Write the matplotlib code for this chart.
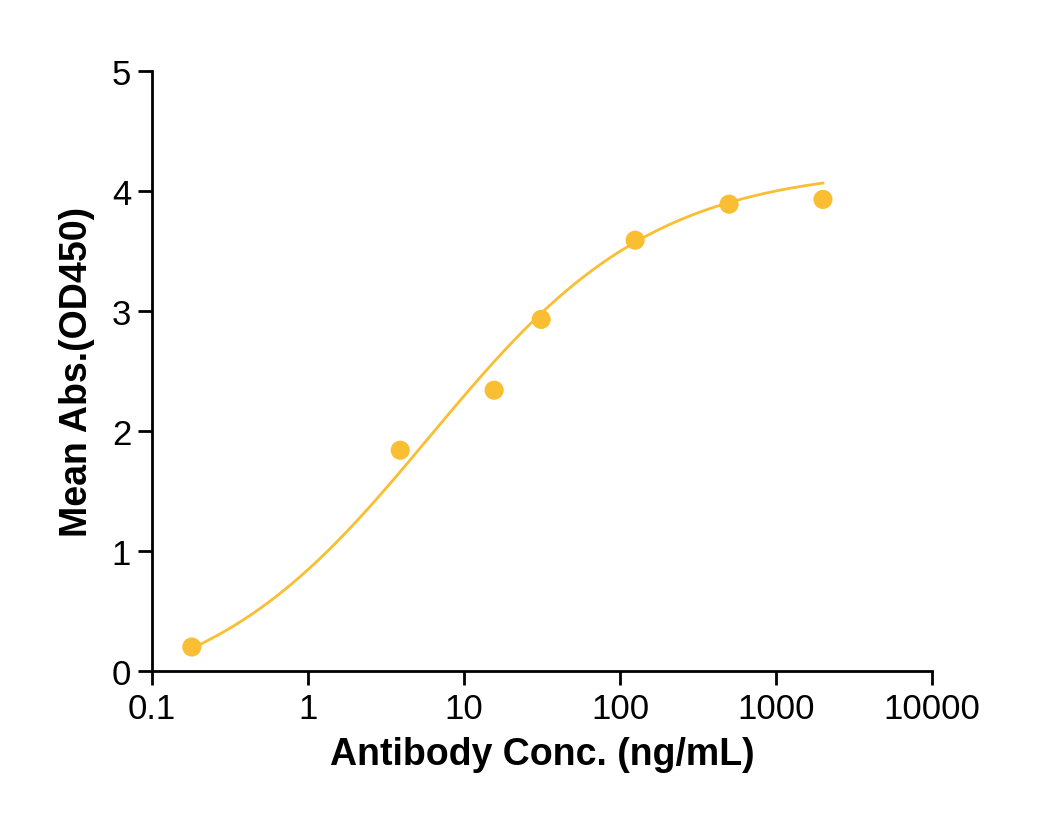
import numpy as np
import matplotlib
matplotlib.use('Agg')
import matplotlib.pyplot as plt

plt.rcParams['font.family'] = ['Liberation Sans', 'DejaVu Sans']

# measured points
conc = [0.18, 3.9, 15.6, 31.25, 125, 500, 2000]
absorb = [0.20, 1.84, 2.34, 2.93, 3.59, 3.89, 3.93]

# 4PL fit parameters (estimated from the drawn curve)
bottom, top, ec50, hill = -0.3, 4.2, 6.0, 0.6

color = '#F9BE32'

fig = plt.figure(figsize=(10.55, 8.37), dpi=100)
ax = fig.add_axes([152/1055, 165/837, 780/1055, 600/837])

xs = np.logspace(np.log10(conc[0]), np.log10(conc[-1]), 300)
ys = bottom + (top - bottom) / (1 + (ec50 / xs) ** hill)
ax.plot(xs, ys, color=color, lw=2)
ax.scatter(conc, absorb, s=190, color=color, zorder=3, edgecolors='none')

ax.set_xscale('log')
ax.set_xlim(0.1, 10000)
ax.set_ylim(0, 5)
ax.set_xticks([0.1, 1, 10, 100, 1000, 10000])
ax.set_xticklabels(['0.1', '1', '10', '100', '1000', '10000'])
ax.xaxis.set_minor_locator(matplotlib.ticker.NullLocator())
ax.set_yticks([0, 1, 2, 3, 4, 5])
for s in ['top', 'right']:
    ax.spines[s].set_visible(False)
for s in ['left', 'bottom']:
    ax.spines[s].set_linewidth(2)
ax.tick_params(width=2, length=10, labelsize=25, pad=5)
ax.set_xlabel('Antibody Conc. (ng/mL)', fontsize=27, fontweight='bold', labelpad=8)
ax.set_ylabel('Mean Abs.(OD450)', fontsize=27, fontweight='bold', labelpad=12)

fig.savefig('out.png', dpi=100)
